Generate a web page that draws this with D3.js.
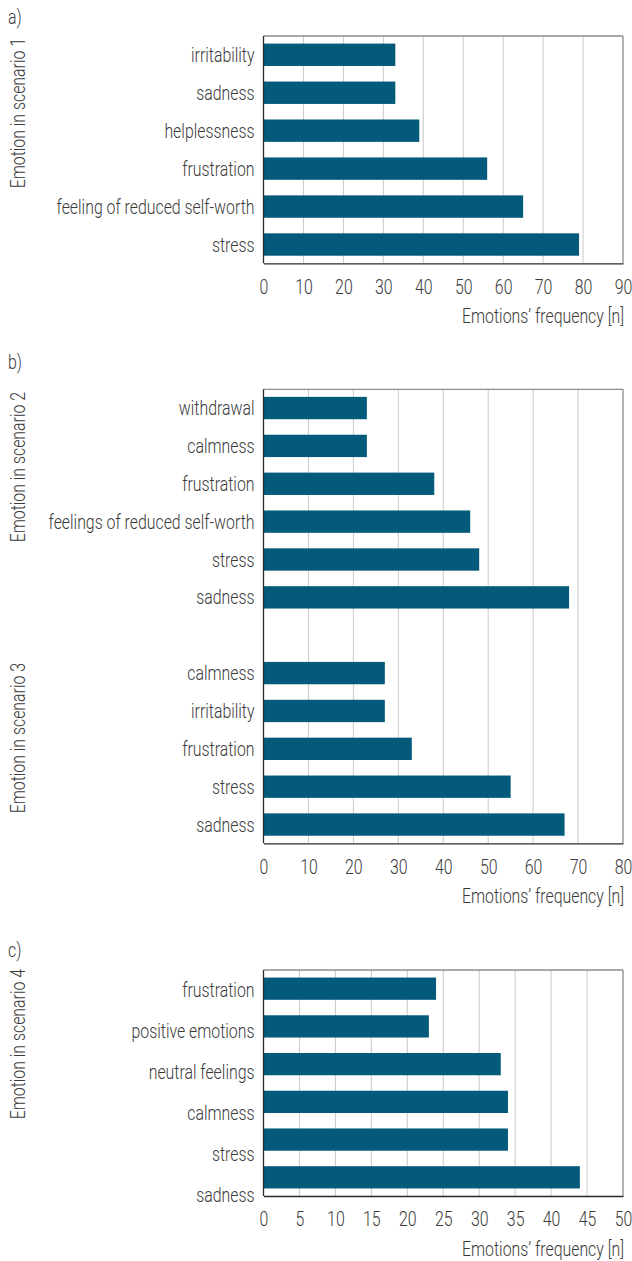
<!DOCTYPE html>
<html>
<head>
<meta charset="utf-8">
<script src="https://cdn.jsdelivr.net/npm/d3@7"></script>
<style>
  html, body { margin: 0; padding: 0; background: #ffffff; }
  svg { display: block; }
  text { font-family: Roboto, "DejaVu Sans", sans-serif; font-weight: 300; fill: #3a3a3a; }
</style>
</head>
<body>
<svg id="chart" width="632" height="1261"></svg>
<script>
// ---- data ----
const catsA = ["irritability", "sadness", "helplessness", "frustration", "feeling of reduced self-worth", "stress"];
const valsA = [33, 33, 39, 56, 65, 79];

const catsB2 = ["withdrawal", "calmness", "frustration", "feelings of reduced self-worth", "stress", "sadness"];
const valsB2 = [23, 23, 38, 46, 48, 68];

const catsB3 = ["calmness", "irritability", "frustration", "stress", "sadness"];
const valsB3 = [27, 27, 33, 55, 67];

const catsC = ["frustration", "positive emotions", "neutral feelings", "calmness", "stress", "sadness"];
const valsC = [24, 23, 33, 34, 34, 44];

const ticksA = [0, 10, 20, 30, 40, 50, 60, 70, 80, 90];
const ticksB = [0, 10, 20, 30, 40, 50, 60, 70, 80];
const ticksC = [0, 5, 10, 15, 20, 25, 30, 35, 40, 45, 50];

const xTitle = "Emotions\u2019 frequency [n]";

// ---- drawing ----
const svg = d3.select("#chart");
const BAR = "#035a7a";
const X0 = 263.5, X1 = 623;
const FS = 19.5;

// calibrate a horizontal condensing factor so the font resembles a condensed face
const probe = svg.append("text").style("font-size", FS + "px").text("feeling of reduced self-worth");
const SX = 198 / probe.node().getComputedTextLength();
probe.remove();

function label(parent, x, y, str, anchor, rotate, dy) {
  const g = parent.append("g")
    .attr("transform", `translate(${x},${y})` + (rotate ? ` rotate(${rotate})` : "") + ` scale(${SX},1)`);
  const t = g.append("text").attr("text-anchor", anchor).style("font-size", FS + "px").text(str);
  if (dy) t.attr("dy", dy);
  return t;
}

function panel(opts) {
  const g = svg.append("g");
  const x = d3.scaleLinear().domain([0, opts.max]).range([X0, X1]);
  const y = d3.scaleBand().domain(opts.slots).range([opts.top, opts.bottom])
    .paddingInner(0.41).paddingOuter(0.2);

  // gridlines
  g.append("g").selectAll("line").data(opts.ticks.slice(1, -1)).join("line")
    .attr("x1", d => x(d)).attr("x2", d => x(d))
    .attr("y1", opts.top).attr("y2", opts.bottom)
    .attr("stroke", "#c9c9c9").attr("stroke-width", 1);

  // frame top/right
  g.append("line").attr("x1", X0).attr("x2", X1).attr("y1", opts.top).attr("y2", opts.top)
    .attr("stroke", "#8c8c8c").attr("stroke-width", 1.3);
  g.append("line").attr("x1", X1).attr("x2", X1).attr("y1", opts.top).attr("y2", opts.bottom)
    .attr("stroke", "#8c8c8c").attr("stroke-width", 1.3);

  // bars
  opts.groups.forEach(gr => {
    g.append("g").selectAll("rect").data(gr.cats.map((c, i) => ({ key: gr.prefix + c, v: gr.vals[i] })))
      .join("rect")
      .attr("x", x(0)).attr("y", d => y(d.key))
      .attr("width", d => x(d.v) - x(0)).attr("height", y.bandwidth())
      .attr("fill", BAR);
  });

  // axes lines (left, bottom)
  g.append("line").attr("x1", X0).attr("x2", X0).attr("y1", opts.top).attr("y2", opts.bottom)
    .attr("stroke", "#2a2a2a").attr("stroke-width", 1.3);
  const xAxis = d3.axisBottom(x).tickValues(opts.ticks).tickSize(0).tickPadding(0).tickFormat(d3.format("d"));
  const ax = g.append("g").attr("transform", `translate(0,${opts.bottom})`).call(xAxis);
  ax.select(".domain").attr("stroke", "#2a2a2a").attr("stroke-width", 1.3);
  ax.selectAll("text").attr("y", 30.5).attr("dy", null)
    .attr("transform", `scale(${SX},1)`)
    .style("font-family", "Roboto, 'DejaVu Sans', sans-serif")
    .style("font-weight", 300)
    .style("font-size", FS + "px").attr("fill", "#444");

  // x title
  label(g, X1 + 1, opts.bottom + 60, xTitle, "end");

  // category labels
  opts.groups.forEach(gr => {
    const ly = gr.labelScale
      ? gr.labelScale
      : (c => y(gr.prefix + c) + y.bandwidth() / 2);
    gr.cats.forEach(c => label(g, X0 - 9, ly(c), c, "end", 0, "0.36em"));
    // y title
    label(g, 25, gr.titleTop, gr.title, "end", -90);
  });

  // panel letter
  label(g, 8, opts.letterY, opts.letter, "start");
}

panel({
  letter: "a)", letterY: 24, top: 36, bottom: 263.3, max: 90, ticks: ticksA,
  slots: catsA.map(c => "1|" + c),
  groups: [{ prefix: "1|", cats: catsA, vals: valsA, title: "Emotion in scenario 1", titleTop: 38 }]
});

panel({
  letter: "b)", letterY: 369, top: 389.3, bottom: 843.3, max: 80, ticks: ticksB,
  slots: catsB2.map(c => "2|" + c).concat(["gap"]).concat(catsB3.map(c => "3|" + c)),
  groups: [
    { prefix: "2|", cats: catsB2, vals: valsB2, title: "Emotion in scenario 2", titleTop: 392 },
    { prefix: "3|", cats: catsB3, vals: valsB3, title: "Emotion in scenario 3", titleTop: 663 }
  ]
});

const labelC = d3.scalePoint().domain(catsC).range([990, 1195]);
panel({
  letter: "c)", letterY: 957, top: 970, bottom: 1196, max: 50, ticks: ticksC,
  slots: catsC.map(c => "4|" + c),
  groups: [{ prefix: "4|", cats: catsC, vals: valsC, title: "Emotion in scenario 4", titleTop: 969, labelScale: labelC }]
});
</script>
</body>
</html>
